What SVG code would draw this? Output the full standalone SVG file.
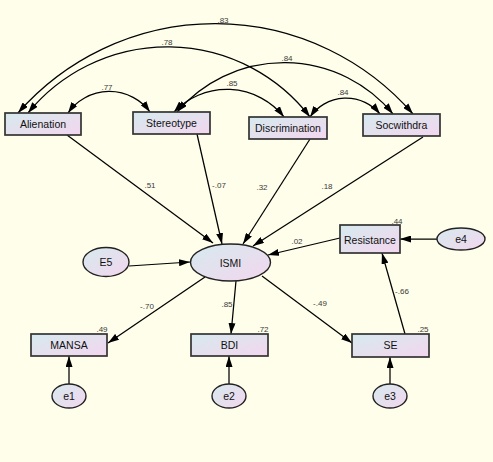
<svg xmlns="http://www.w3.org/2000/svg" width="493" height="462" viewBox="0 0 493 462">
<defs>
<linearGradient id="fillg" x1="0" y1="0" x2="1" y2="1">
<stop offset="0" stop-color="#d6eaee"/>
<stop offset="1" stop-color="#f3d6ee"/>
</linearGradient>
<marker id="ah" viewBox="0 0 11 7" refX="11" refY="3.5" markerWidth="11" markerHeight="7" markerUnits="userSpaceOnUse" orient="auto-start-reverse">
<path d="M0,0 L11,3.5 L0,7 z" fill="#000"/>
</marker>
<style>
.box{fill:url(#fillg);stroke:#333;stroke-width:1.7}
.ell{fill:url(#fillg);stroke:#222;stroke-width:1.4}
.lbl{font-family:"Liberation Sans",Arial,sans-serif;font-size:10.5px;fill:#111;text-anchor:middle}
.num{font-family:"Liberation Sans",Arial,sans-serif;font-size:8px;fill:#3a3a3a;text-anchor:middle}
.cn{fill:none;stroke:#000;stroke-width:1.25;marker-end:url(#ah)}
.cv{fill:none;stroke:#000;stroke-width:1.25;marker-start:url(#ah);marker-end:url(#ah)}
</style>
</defs>
<rect x="0" y="0" width="493" height="462" fill="#fefeea"/>
<g id="connectors">
<path class="cv" d="M18,113 A262,262 0 0 1 413,114"/>
<path class="cv" d="M28,113 A180,180 0 0 1 310,117"/>
<path class="cv" d="M68,113 A50.5,50.5 0 0 1 150,112"/>
<path class="cv" d="M174,112 A73,73 0 0 1 284,117"/>
<path class="cv" d="M177,112 A141,141 0 0 1 393,114"/>
<path class="cv" d="M310,117 A44,44 0 0 1 380,114"/>
<path class="cn" d="M67,135 L213,243"/>
<path class="cn" d="M197,134 L222,244"/>
<path class="cn" d="M310,139 L243,244"/>
<path class="cn" d="M423,137 L253,246"/>
<path class="cn" d="M129,266 L190,262"/>
<path class="cn" d="M340,238 L268,255"/>
<path class="cn" d="M437,239 L400,239"/>
<path class="cn" d="M405,334 L382,253"/>
<path class="cn" d="M205,277 L108,343"/>
<path class="cn" d="M236,281 L231,334"/>
<path class="cn" d="M262,276 L352,343"/>
<path class="cn" d="M69,384 L69,356"/>
<path class="cn" d="M229,384 L229,356"/>
<path class="cn" d="M390,384 L390,357"/>
<text class="num" x="223" y="23">.83</text>
<text class="num" x="167" y="45">.78</text>
<text class="num" x="107" y="90">.77</text>
<text class="num" x="232" y="86">.85</text>
<text class="num" x="287" y="61">.84</text>
<text class="num" x="343" y="95">.84</text>
<text class="num" x="150" y="188">.51</text>
<text class="num" x="219" y="188">-.07</text>
<text class="num" x="262" y="190">.32</text>
<text class="num" x="327" y="189">.18</text>
<text class="num" x="297" y="244">.02</text>
<text class="num" x="402" y="294">-.66</text>
<text class="num" x="320" y="306">-.49</text>
<text class="num" x="147" y="309">-.70</text>
<text class="num" x="227" y="307">.85</text>
</g>
<g id="Alienation"><rect class="box" x="5" y="113" width="76" height="22"/><text class="lbl" x="43" y="128">Alienation</text></g>
<g id="Stereotype"><rect class="box" x="133" y="112" width="77" height="22"/><text class="lbl" x="171.5" y="127">Stereotype</text></g>
<g id="Discrimination"><rect class="box" x="249" y="117" width="78" height="22"/><text class="lbl" x="288" y="132">Discrimination</text></g>
<g id="Socwithdra"><rect class="box" x="363" y="114" width="77" height="22"/><text class="lbl" x="401.5" y="129">Socwithdra</text></g>
<g id="ISMI"><ellipse class="ell" cx="230.5" cy="262.5" rx="40" ry="18.5"/><text class="lbl" x="230.5" y="266.5">ISMI</text></g>
<g id="E5"><ellipse class="ell" cx="106" cy="262" rx="23" ry="14.5"/><text class="lbl" x="106" y="266">E5</text></g>
<g id="Resistance"><rect class="box" x="340" y="225" width="60" height="28"/><text class="lbl" x="370" y="244">Resistance</text><text class="num" x="397" y="224">.44</text></g>
<g id="e4"><ellipse class="ell" cx="461" cy="239" rx="24" ry="11"/><text class="lbl" x="461" y="243">e4</text></g>
<g id="MANSA"><rect class="box" x="31" y="334" width="76" height="22"/><text class="lbl" x="69" y="349">MANSA</text><text class="num" x="102" y="332">.49</text></g>
<g id="BDI"><rect class="box" x="191" y="334" width="77" height="22"/><text class="lbl" x="229.5" y="349">BDI</text><text class="num" x="263" y="332">.72</text></g>
<g id="SE"><rect class="box" x="352" y="334" width="77" height="23"/><text class="lbl" x="390.5" y="349">SE</text><text class="num" x="423" y="332">.25</text></g>
<g id="e1"><ellipse class="ell" cx="69" cy="396" rx="17" ry="12"/><text class="lbl" x="69" y="400">e1</text></g>
<g id="e2"><ellipse class="ell" cx="229" cy="396" rx="17" ry="12"/><text class="lbl" x="229" y="400">e2</text></g>
<g id="e3"><ellipse class="ell" cx="390" cy="396" rx="17" ry="12"/><text class="lbl" x="390" y="400">e3</text></g>
</svg>
